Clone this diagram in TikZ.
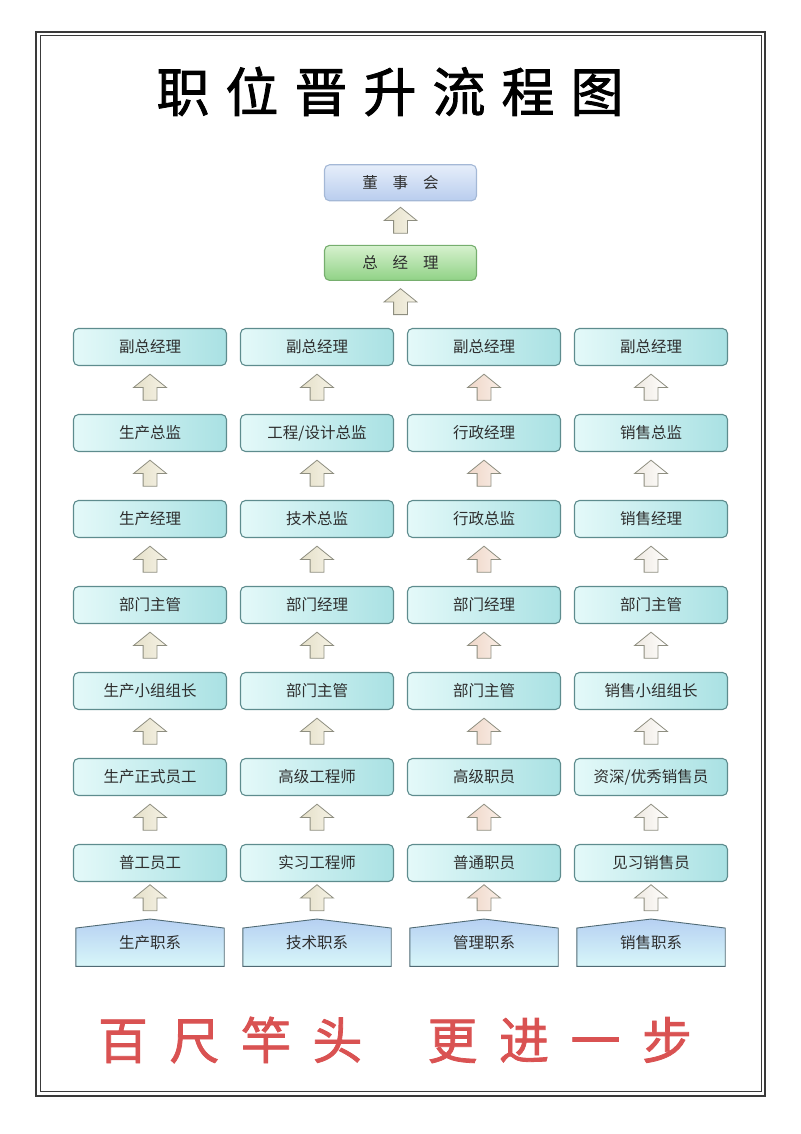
\documentclass[tikz,border=0pt]{standalone}
\usepackage{fontspec}
\usepackage{tikz}
\usepackage{xcolor}
\newfontfamily\cjk{Noto Sans CJK SC}
\newfontfamily\cjkheavy[FakeBold=1.6]{Noto Sans CJK SC}
\usetikzlibrary{shapes,arrows,positioning,calc,backgrounds}
\definecolor{boxleft}{HTML}{E4F9F9}
\definecolor{boxright}{HTML}{A9E1E3}
\definecolor{boxline}{HTML}{5E8C8E}
\definecolor{textgray}{HTML}{2E2E2E}
\definecolor{boardtop}{HTML}{E6EEFA}
\definecolor{boardbot}{HTML}{B9CDEE}
\definecolor{boardline}{HTML}{A4B8D6}
\definecolor{gmtop}{HTML}{D6F1CE}
\definecolor{gmbot}{HTML}{90D286}
\definecolor{gmline}{HTML}{76AE6E}
\definecolor{arrowline}{HTML}{8E8E80}
\definecolor{beigeA}{HTML}{F6F3E6}
\definecolor{beigeB}{HTML}{E4DFC8}
\definecolor{pinkA}{HTML}{FAEEE6}
\definecolor{pinkB}{HTML}{EED6C8}
\definecolor{whiteA}{HTML}{FFFFFF}
\definecolor{whiteB}{HTML}{EEE8E0}
\definecolor{basetop}{HTML}{B6D0F2}
\definecolor{basemid}{HTML}{D2F3F6}
\definecolor{basebot}{HTML}{D8F7F9}
\definecolor{baseline}{HTML}{506A74}
\definecolor{framegray}{HTML}{3A3A3A}
\definecolor{slogred}{HTML}{D95252}
\tikzstyle{stepbox} = [rectangle, rounded corners=5pt, draw=boxline, line width=1.1pt,
    left color=boxleft, right color=boxright, minimum width=153pt, minimum height=37pt,
    text=textgray, font=\cjk\fontsize{15.5}{18}\selectfont]
\tikzstyle{board} = [stepbox, draw=boardline, top color=boardtop, bottom color=boardbot,
    minimum width=152pt, minimum height=36pt]
\tikzstyle{gm} = [stepbox, draw=gmline, top color=gmtop, bottom color=gmbot,
    minimum width=152pt, minimum height=35pt]
\tikzstyle{upbeige} = [single arrow, rotate=90, draw=arrowline, line width=0.8pt,
    right color=beigeA, left color=beigeB, minimum height=26pt,
    single arrow head extend=9.5pt, single arrow tip angle=102,
    inner xsep=0pt, inner ysep=6.5pt]
\tikzstyle{uppink} = [upbeige, right color=pinkA, left color=pinkB]
\tikzstyle{upwhite} = [upbeige, right color=whiteA, left color=whiteB]
\tikzstyle{basebox} = [rectangle, minimum width=148pt, minimum height=47pt,
    text=textgray, font=\cjk\fontsize{15.5}{18}\selectfont]
\tikzstyle{basefill} = [draw=baseline, line width=0.9pt, top color=basetop,
    middle color=basemid, bottom color=basebot]
\newcommand{\tgap}{\hspace{16pt}}
\newcommand{\sgap}{\hspace{21.5pt}}

\begin{document}
\begin{tikzpicture}[x=1pt, y=1pt, node distance=47.9pt and 12.9pt]
    \useasboundingbox (0,0) rectangle (800,1134);
    % Frame
    \draw[framegray, line width=2pt] (36,1102) rectangle (765,38);
    \draw[framegray, line width=1pt] (40,1098) rectangle (761,42);
    % Title and slogan
    \node[font=\cjkheavy\fontsize{53}{60}\selectfont] (title) at (390,1042.5)
        {职\tgap 位\tgap 晋\tgap 升\tgap 流\tgap 程\tgap 图};
    \node[font=\cjkheavy\fontsize{50}{56}\selectfont, text=slogred] (slogan) at (395,94)
        {百\sgap 尺\sgap 竿\sgap 头\sgap\hspace{43.5pt}更\sgap 进\sgap 一\sgap 步};
    % Place nodes
    \node[stepbox] (prod1) at (150,271) {普工员工};
    \node[stepbox, above=of prod1] (prod2) {生产正式员工};
    \node[stepbox, above=of prod2] (prod3) {生产小组组长};
    \node[stepbox, above=of prod3] (prod4) {部门主管};
    \node[stepbox, above=of prod4] (prod5) {生产经理};
    \node[stepbox, above=of prod5] (prod6) {生产总监};
    \node[stepbox, above=of prod6] (prod7) {副总经理};
    \node[stepbox, right=of prod1] (tech1) {实习工程师};
    \node[stepbox, above=of tech1] (tech2) {高级工程师};
    \node[stepbox, above=of tech2] (tech3) {部门主管};
    \node[stepbox, above=of tech3] (tech4) {部门经理};
    \node[stepbox, above=of tech4] (tech5) {技术总监};
    \node[stepbox, above=of tech5] (tech6) {工程/设计总监};
    \node[stepbox, above=of tech6] (tech7) {副总经理};
    \node[stepbox, right=of tech1] (adm1) {普通职员};
    \node[stepbox, above=of adm1] (adm2) {高级职员};
    \node[stepbox, above=of adm2] (adm3) {部门主管};
    \node[stepbox, above=of adm3] (adm4) {部门经理};
    \node[stepbox, above=of adm4] (adm5) {行政总监};
    \node[stepbox, above=of adm5] (adm6) {行政经理};
    \node[stepbox, above=of adm6] (adm7) {副总经理};
    \node[stepbox, right=of adm1] (sale1) {见习销售员};
    \node[stepbox, above=of sale1] (sale2) {资深/优秀销售员};
    \node[stepbox, above=of sale2] (sale3) {销售小组组长};
    \node[stepbox, above=of sale3] (sale4) {部门主管};
    \node[stepbox, above=of sale4] (sale5) {销售经理};
    \node[stepbox, above=of sale5] (sale6) {销售总监};
    \node[stepbox, above=of sale6] (sale7) {副总经理};
    \coordinate (vptop) at ($(tech7.north)!0.5!(adm7.north)$);
    \node[gm, above=47pt of vptop] (gm) {总\hspace{15pt}经\hspace{15pt}理};
    \node[board, above=43.5pt of gm] (board) {董\hspace{15pt}事\hspace{15pt}会};
    % Base nodes
    \node[basebox, below=37pt of prod1] (prodbase) {生产职系};
    \node[basebox, below=37pt of tech1] (techbase) {技术职系};
    \node[basebox, below=37pt of adm1] (admbase) {管理职系};
    \node[basebox, below=37pt of sale1] (salebase) {销售职系};
    \begin{pgfonlayer}{background}
        \foreach \b in {prodbase,techbase,admbase,salebase}
            \draw[basefill] (\b.south west) -- ([yshift=-9pt]\b.north west) -- (\b.north)
                -- ([yshift=-9pt]\b.north east) -- (\b.south east) -- cycle;
    \end{pgfonlayer}
    % Draw edges
    \path (prodbase) -- node[upbeige] {} (prod1);
    \path (prod1) -- node[upbeige] {} (prod2);
    \path (prod2) -- node[upbeige] {} (prod3);
    \path (prod3) -- node[upbeige] {} (prod4);
    \path (prod4) -- node[upbeige] {} (prod5);
    \path (prod5) -- node[upbeige] {} (prod6);
    \path (prod6) -- node[upbeige] {} (prod7);
    \path (techbase) -- node[upbeige] {} (tech1);
    \path (tech1) -- node[upbeige] {} (tech2);
    \path (tech2) -- node[upbeige] {} (tech3);
    \path (tech3) -- node[upbeige] {} (tech4);
    \path (tech4) -- node[upbeige] {} (tech5);
    \path (tech5) -- node[upbeige] {} (tech6);
    \path (tech6) -- node[upbeige] {} (tech7);
    \path (admbase) -- node[uppink] {} (adm1);
    \path (adm1) -- node[uppink] {} (adm2);
    \path (adm2) -- node[uppink] {} (adm3);
    \path (adm3) -- node[uppink] {} (adm4);
    \path (adm4) -- node[uppink] {} (adm5);
    \path (adm5) -- node[uppink] {} (adm6);
    \path (adm6) -- node[uppink] {} (adm7);
    \path (salebase) -- node[upwhite] {} (sale1);
    \path (sale1) -- node[upwhite] {} (sale2);
    \path (sale2) -- node[upwhite] {} (sale3);
    \path (sale3) -- node[upwhite] {} (sale4);
    \path (sale4) -- node[upwhite] {} (sale5);
    \path (sale5) -- node[upwhite] {} (sale6);
    \path (sale6) -- node[upwhite] {} (sale7);
    \path (vptop) -- node[upbeige] {} (gm);
    \path (gm) -- node[upbeige] {} (board);
\end{tikzpicture}
\end{document}
